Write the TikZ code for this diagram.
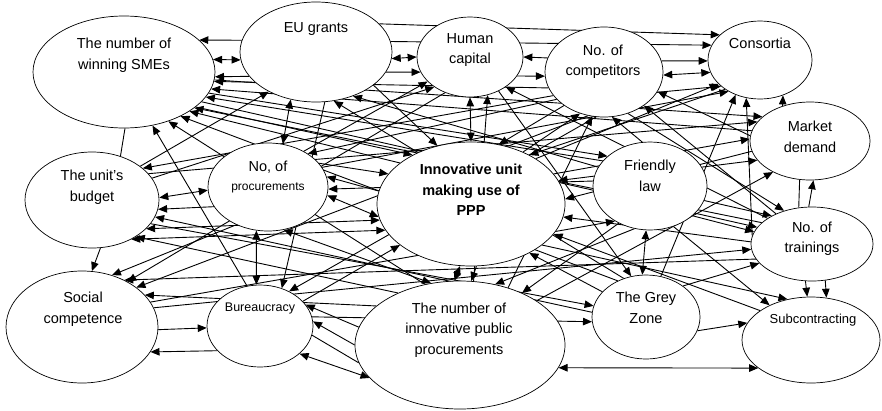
\documentclass[tikz,border=0pt]{standalone}
\usepackage{fontspec}
\setmainfont{Liberation Sans}
\usetikzlibrary{shapes.geometric,arrows.meta}
\pgfdeclarelayer{links}
\pgfsetlayers{links,main}
\tikzset{
  ell/.style={ellipse, draw, fill=white, line width=0.7pt, inner sep=0pt},
  lbl/.style={align=center, inner sep=0pt, font=\fontsize{14.5}{20.5}\selectfont},
  tip/.tip={Triangle[length=9pt,width=7.5pt]},
  to/.style={-tip, line width=0.9pt},
  both/.style={tip-tip, line width=0.9pt},
  plain/.style={line width=0.9pt},
}
\newcommand\bubble[5]{\node[ell, minimum width=#4pt, minimum height=#5pt] (#1) at (#2,#3) {};}
\newcommand\link[3]{\draw[#1] (#2) -- (#3);}
\begin{document}
\begin{tikzpicture}[x=1pt,y=-1pt]
\useasboundingbox (0,0) rectangle (882,410);

% ---- factors ----
\bubble{S}{124}{72}{182}{112}
\bubble{E}{316}{52}{152}{100}
\bubble{H}{470}{57}{106}{80}
\bubble{C}{604}{72}{118}{90}
\bubble{K}{760}{60}{104}{78}
\bubble{M}{810}{141}{120}{78}
\bubble{T}{812}{244}{122}{74}
\bubble{Sub}{811}{340}{138}{86}
\bubble{G}{646}{317}{108}{84}
\bubble{F}{650}{186}{114}{88}
\bubble{P}{471}{204}{188}{124}
\bubble{N}{268}{187}{120}{88}
\bubble{B}{92}{200}{134}{96}
\bubble{SC}{82}{327}{152}{112}
\bubble{Bu}{260}{326}{106}{82}
\bubble{IPP}{460}{345}{210}{128}

\node[lbl] (S-t) at (124,55) {The number of\\winning SMEs};
\node[lbl] (E-t) at (316,29) {EU grants};
\node[lbl] (H-t) at (470,50) {Human\\capital};
\node[lbl] (C-t) at (603,62) {No. of\\competitors};
\node[lbl] (K-t) at (760,43) {Consortia};
\node[lbl] (M-t) at (810,137) {Market\\demand};
\node[lbl] (T-t) at (812,239) {No. of\\trainings};
\node[lbl, font=\fontsize{13}{15}\selectfont] (Sub-t) at (813,320) {Subcontracting};
\node[lbl] (G-t) at (646,308) {The Grey\\Zone};
\node[lbl] (F-t) at (650,176) {Friendly\\law};
\node[lbl, font=\bfseries\fontsize{14.5}{20.5}\selectfont] (P-t) at (471,190) {Innovative unit\\making use of\\PPP};
\node[lbl] (N-t) at (268,167) {No, of};
\node[lbl, font=\fontsize{12}{14}\selectfont] (N-t2) at (268,188) {procurements};
\node[lbl] (B-t) at (92,187) {The unit's\\budget};
\node[lbl] (SC-t) at (83,309) {Social\\competence};
\node[lbl, font=\fontsize{12.5}{15}\selectfont] (Bu-t) at (260,308) {Bureaucracy};
\node[lbl] (IPP-t) at (459,330) {The number of\\innovative public\\procurements};

\begin{pgfonlayer}{links}
% top band
\link{to}{E.171}{S.23}
\link{both}{E.186}{S.8}
\link{to}{E.200}{S.-3}
\link{both}{E.-5}{H.180}
\link{to}{E.-16}{H.197}
\link{to}{E.24}{K.148}
\link{to}{E.8}{K.163}
\link{to}{C.166}{H.0}
\link{to}{H.-22}{C.184}
\link{to}{C.11}{K.181}
\link{both}{C.-3}{K.194}
\link{to}{C.-21}{K.214}
\link{to}{M.128}{K.-57}
% winning SMEs
\link{to}{F.152}{S.-17}
\link{to}{M.170}{S.-11}
\link{to}{T.157}{S.-27}
\link{to}{C.196}{S.-6}
\link{to}{G.128}{S.-38}
\link{to}{Bu.108}{S.-62}
\link{to}{IPP.120}{S.-48}
\link{to}{P.150}{S.-31}
\link{to}{S.-21}{T.163}
\link{to}{S.-5}{M.153}
\link{to}{S.-14}{F.145}
\link{to}{S.-26}{P.140}
\link{plain}{S.-89}{B.57}
% EU grants
\link{both}{E.-118}{N.71}
\link{to}{B.35}{E.-140}
\link{to}{C.205}{B.32}
\link{to}{F.160}{E.-50}
\link{to}{G.120}{E.-70}
\link{to}{E.-30}{P.120}
\link{to}{E.-80}{Bu.60}
% human capital
\link{both}{H.-90}{P.90}
\link{to}{IPP.78}{H.-65}
\link{to}{T.150}{H.-40}
\link{to}{B.20}{H.-140}
\link{to}{N.45}{H.-150}
\link{to}{H.-50}{G.110}
\link{to}{H.-125}{SC.45}
% competitors
\link{to}{F.100}{C.-80}
\link{to}{P.45}{C.-120}
\link{to}{IPP.50}{C.-105}
\link{to}{T.140}{C.-40}
\link{to}{M.175}{C.-20}
\link{to}{C.-150}{N.40}
\link{to}{C.-140}{P.65}
\link{to}{C.-60}{T.130}
\link{to}{C.-100}{Bu.50}
\link{to}{C.-110}{SC.36}
% consortia
\link{to}{P.35}{K.-150}
\link{to}{N.20}{K.-135}
\link{to}{G.70}{K.-125}
\link{to}{T.172}{K.-110}
\link{to}{B.25}{M.160}
% market demand
\link{to}{F.20}{M.-160}
\link{to}{IPP.30}{M.-140}
\link{to}{T.95}{M.-85}
\link{plain}{T.110}{M.-105}
\link{to}{P.20}{M.178}
% friendly law and the PPP unit
\link{to}{F.-15}{T.145}
\link{to}{F.-35}{T.168}
\link{both}{G.95}{F.-95}
\link{to}{SC.20}{F.-135}
\link{to}{K.-140}{P.40}
\link{to}{F.170}{P.15}
\link{to}{M.-170}{P.3}
\link{to}{T.178}{P.-8}
\link{to}{Sub.150}{P.-20}
\link{to}{G.150}{P.-40}
\link{both}{N.-8}{P.188}
\link{to}{P.172}{N.10}
\link{to}{F.175}{N.-2}
\link{to}{N.25}{P.160}
% grey zone, trainings, subcontracting
\link{to}{F.-130}{IPP.40}
\link{to}{B.-22}{G.168}
\link{to}{Bu.10}{G.185}
\link{to}{G.175}{B.-15}
\link{to}{G.-15}{Sub.165}
\link{both}{IPP.-13}{Sub.-152}
\link{to}{T.-100}{Sub.95}
\link{to}{T.-70}{Sub.70}
\link{to}{F.-60}{Sub.140}
\link{to}{P.-30}{Sub.120}
\link{to}{G.40}{T.-160}
% budget, social competence, bureaucracy
\link{both}{B.-28}{P.190}
\link{both}{B.-45}{P.197}
\link{to}{N.200}{B.-8}
\link{both}{B.2}{N.183}
\link{to}{IPP.140}{B.-40}
\link{to}{B.-80}{SC.80}
\link{to}{SC.-2}{Bu.182}
\link{to}{Bu.-150}{SC.-20}
\link{to}{SC.15}{T.-175}
\link{to}{T.-165}{SC.48}
\link{to}{IPP.155}{SC.27}
\link{to}{N.-130}{SC.60}
\link{both}{N.-105}{Bu.95}
\link{to}{IPP.170}{Bu.25}
\link{to}{IPP.180}{Bu.5}
\link{plain}{Bu.-10}{IPP.190}
\link{both}{Bu.-35}{IPP.200}
\link{both}{P.-100}{IPP.95}
\link{to}{P.-85}{IPP.80}
\link{to}{F.-110}{IPP.60}
\link{both}{N.-70}{IPP.115}
\link{to}{Bu.30}{P.-150}
\end{pgfonlayer}
\end{tikzpicture}
\end{document}
